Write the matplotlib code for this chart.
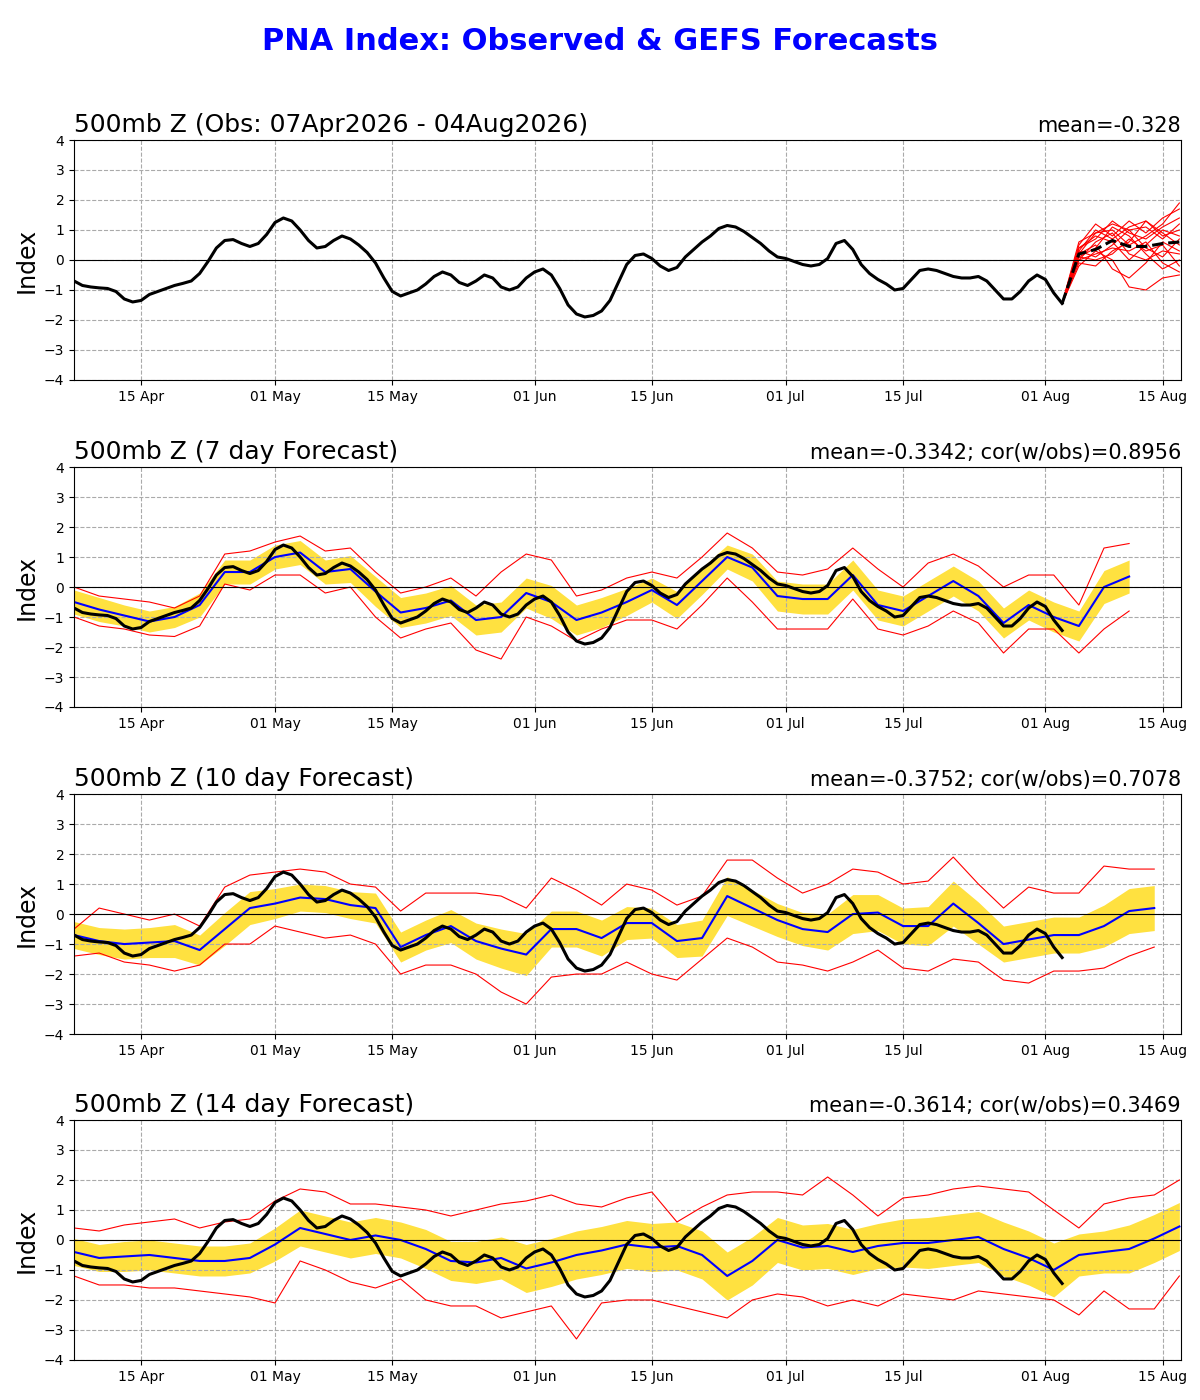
import numpy as np
import matplotlib
matplotlib.use("Agg")
import matplotlib.pyplot as plt
import matplotlib.dates as mdates
import datetime as dt

start = dt.date(2026, 4, 7)

# daily observed index from 07 Apr
obs = [-0.7,-0.85,-0.9,-0.93,-0.95,-1.05,-1.3,-1.4,-1.35,-1.15,-1.05,-0.95,-0.85,-0.78,-0.7,-0.45,-0.05,0.4,0.65,0.68,
       0.55,0.45,0.55,0.85,1.25,1.4,1.3,1.0,0.65,0.4,0.45,0.65,0.8,0.7,0.5,0.25,-0.1,-0.6,-1.05,-1.2,
       -1.1,-1.0,-0.8,
       -0.55,-0.4,-0.5,-0.75,-0.85,-0.7,-0.5,-0.6,-0.9,-1.0,-0.9,-0.6,-0.4,-0.3,-0.5,-0.95,-1.5,-1.8,-1.9,-1.85,
       -1.7,-1.35,-0.75,-0.15,0.15,0.2,0.05,-0.2,-0.35,-0.25,0.1,0.35,0.6,0.8,1.05,1.15,1.1,0.95,0.75,0.55,
       0.3,0.1,0.05,-0.05,-0.15,-0.2,-0.15,0.05,0.55,0.65,0.35,-0.15,-0.45,-0.65,-0.8,-1.0,-0.95,-0.65,-0.35,-0.3,
       -0.35,-0.45,-0.55,-0.6,-0.6,-0.55,-0.7,-1.0,-1.3,-1.3,-1.05,-0.7,-0.5,-0.65,-1.1,-1.45]

ens_days = [0, 2, 4, 6, 8, 10, 12, 14]
ens_members = [
    [-1.45,0.2,0.9,1.0,0.5,0.8,1.2,1.9],
    [-1.45,-0.2,0.3,0.0,-0.9,-1.0,-0.6,-0.5],
    [-1.45,0.5,1.2,0.8,1.3,0.9,1.4,1.7],
    [-1.45,0.0,0.6,0.9,0.2,0.0,0.3,0.2],
    [-1.45,0.3,0.1,0.5,1.0,1.1,0.7,1.2],
    [-1.45,0.1,0.4,1.1,0.8,0.2,-0.3,0.0],
    [-1.45,0.4,0.8,0.6,0.0,0.5,1.0,0.8],
    [-1.45,-0.1,-0.2,0.3,0.6,1.3,0.8,1.0],
    [-1.45,0.6,0.9,1.2,1.0,0.4,0.1,0.7],
    [-1.45,0.2,0.5,-0.3,-0.6,-0.1,0.6,0.3],
    [-1.45,0.3,1.0,0.7,1.1,1.3,0.9,0.5],
    [-1.45,0.0,0.2,0.4,0.3,0.6,-0.1,-0.4],
    [-1.45,0.4,0.7,1.3,0.9,0.7,1.1,1.4],
    [-1.45,0.1,0.0,0.2,0.7,0.3,0.5,-0.2],
]
ens_mean = [-1.45,0.2,0.35,0.65,0.45,0.45,0.55,0.6]

# Forecast panels, sampled every 3 days from start
f7_mean = [-0.5,-0.75,-0.95,-1.15,-1.0,-0.6,0.5,0.5,1.0,1.15,0.5,0.6,-0.15,-0.85,-0.7,-0.45,-1.1,-1.0,-0.2,-0.5,
           -1.1,-0.85,-0.5,-0.1,-0.6,0.2,1.0,0.65,-0.3,-0.4,-0.4,0.4,-0.6,-0.8,-0.3,0.2,-0.3,-1.2,-0.6,-1.0,
           -1.3,0.0,0.35]
f7_hw = [0.4,0.4,0.35,0.35,0.35,0.4,0.4,0.4,0.4,0.4,0.4,0.45,0.5,0.5,0.5,0.5,0.5,0.5,0.5,0.55,
         0.5,0.5,0.45,0.4,0.45,0.45,0.4,0.45,0.5,0.5,0.5,0.5,0.5,0.5,0.5,0.5,0.5,0.5,0.5,0.5,
         0.5,0.55,0.55]
f7_up = [0.0,-0.3,-0.4,-0.5,-0.7,-0.3,1.1,1.2,1.5,1.7,1.2,1.3,0.5,-0.2,0.0,0.3,-0.3,0.5,1.1,0.9,
         -0.3,-0.1,0.3,0.5,0.3,1.0,1.8,1.3,0.5,0.4,0.6,1.3,0.6,0.0,0.8,1.1,0.7,0.0,0.4,0.4,
         -0.6,1.3,1.45]
f7_lo = [-1.0,-1.3,-1.4,-1.6,-1.65,-1.3,0.1,-0.1,0.4,0.4,-0.2,0.0,-1.0,-1.7,-1.4,-1.2,-2.1,-2.4,-1.0,-1.3,
         -1.8,-1.4,-1.1,-1.1,-1.4,-0.6,0.3,-0.5,-1.4,-1.4,-1.4,-0.4,-1.4,-1.6,-1.3,-0.8,-1.2,-2.2,-1.4,-1.4,
         -2.2,-1.4,-0.8]

f10_mean = [-0.7,-0.9,-1.0,-0.95,-0.9,-1.2,-0.5,0.2,0.35,0.55,0.5,0.3,0.2,-1.1,-0.7,-0.4,-0.9,-1.15,-1.35,-0.5,
            -0.5,-0.8,-0.3,-0.3,-0.9,-0.8,0.6,0.2,-0.2,-0.5,-0.6,0.0,0.05,-0.4,-0.4,0.35,-0.3,-1.0,-0.85,-0.7,
            -0.7,-0.4,0.1,0.2]
f10_hw = [0.45,0.45,0.5,0.5,0.55,0.5,0.55,0.55,0.5,0.45,0.45,0.45,0.5,0.5,0.5,0.55,0.6,0.65,0.7,0.6,
          0.6,0.6,0.55,0.5,0.55,0.6,0.65,0.6,0.55,0.55,0.6,0.65,0.6,0.6,0.65,0.75,0.7,0.6,0.6,0.6,
          0.6,0.7,0.75,0.75]
f10_up = [-0.5,0.2,0.0,-0.2,0.0,-0.4,0.9,1.3,1.4,1.5,1.4,1.0,0.9,0.1,0.7,0.7,0.7,0.6,0.2,1.2,
          0.8,0.3,1.0,0.8,0.3,0.6,1.8,1.8,1.2,0.7,1.0,1.5,1.4,1.0,1.1,1.9,1.0,0.2,0.9,0.7,
          0.7,1.6,1.5,1.5]
f10_lo = [-1.4,-1.3,-1.6,-1.7,-1.9,-1.7,-1.0,-1.0,-0.4,-0.6,-0.8,-0.7,-1.0,-2.0,-1.7,-1.7,-2.0,-2.6,-3.0,-2.1,
          -2.0,-2.0,-1.6,-2.0,-2.2,-1.5,-0.8,-1.1,-1.6,-1.7,-1.9,-1.6,-1.2,-1.8,-1.9,-1.5,-1.6,-2.2,-2.3,-1.9,
          -1.9,-1.8,-1.4,-1.1]

f14_mean = [-0.4,-0.6,-0.55,-0.5,-0.6,-0.7,-0.7,-0.6,-0.15,0.4,0.2,0.0,0.15,0.0,-0.3,-0.7,-0.75,-0.6,-0.95,-0.75,
            -0.5,-0.35,-0.15,-0.25,-0.2,-0.5,-1.2,-0.7,0.0,-0.25,-0.2,-0.4,-0.2,-0.1,-0.1,0.0,0.1,-0.3,-0.6,-1.0,
            -0.5,-0.4,-0.3,0.05,0.45]
f14_hw = [0.45,0.45,0.5,0.5,0.5,0.5,0.5,0.5,0.55,0.6,0.6,0.6,0.6,0.6,0.65,0.65,0.7,0.7,0.8,0.8,
          0.8,0.8,0.8,0.8,0.8,0.8,0.8,0.8,0.75,0.75,0.75,0.75,0.75,0.8,0.85,0.85,0.85,0.9,0.9,0.9,
          0.7,0.7,0.8,0.8,0.8]
f14_up = [0.4,0.3,0.5,0.6,0.7,0.4,0.6,0.7,1.3,1.7,1.6,1.2,1.2,1.1,1.0,0.8,1.0,1.2,1.3,1.5,
          1.2,1.1,1.4,1.6,0.6,1.1,1.5,1.6,1.6,1.5,2.1,1.5,0.8,1.4,1.5,1.7,1.8,1.7,1.6,1.0,
          0.4,1.2,1.4,1.5,2.0]
f14_lo = [-1.2,-1.5,-1.5,-1.6,-1.6,-1.7,-1.8,-1.9,-2.1,-0.7,-1.0,-1.4,-1.6,-1.3,-2.0,-2.2,-2.2,-2.6,-2.4,-2.2,
          -3.3,-2.1,-2.0,-2.0,-2.2,-2.4,-2.6,-2.0,-1.8,-1.9,-2.2,-2.0,-2.2,-1.8,-1.9,-2.0,-1.7,-1.8,-1.9,-2.0,
          -2.5,-1.7,-2.3,-2.3,-1.2]

titles = ["500mb Z (Obs: 07Apr2026 - 04Aug2026)", "500mb Z (7 day Forecast)",
          "500mb Z (10 day Forecast)", "500mb Z (14 day Forecast)"]
rtitles = ["mean=-0.328", "mean=-0.3342; cor(w/obs)=0.8956",
           "mean=-0.3752; cor(w/obs)=0.7078", "mean=-0.3614; cor(w/obs)=0.3469"]

t0 = mdates.date2num(start)
def dnum(days):
    return t0 + np.asarray(days, dtype=float)

obs_x = dnum(np.arange(len(obs)))
ens_x = dnum(np.array(ens_days) + len(obs) - 1)

fig = plt.figure(figsize=(12, 14), dpi=100)
fig.text(0.5, 0.97, "PNA Index: Observed & GEFS Forecasts", color="blue",
         fontsize=22, fontweight="bold", ha="center", va="center")
bottoms = [0.7286, 0.495, 0.2614, 0.0286]
xmin = t0
xmax = t0 + 132.2

fcsts = [None, (f7_mean, f7_hw, f7_up, f7_lo), (f10_mean, f10_hw, f10_up, f10_lo),
         (f14_mean, f14_hw, f14_up, f14_lo)]
ticks = [dt.date(2026, m, d) for m, d in [(4, 15), (5, 1), (5, 15), (6, 1), (6, 15), (7, 1), (7, 15), (8, 1), (8, 15)]]

for i, b in enumerate(bottoms):
    ax = fig.add_axes([0.0617, b, 0.9225, 0.1714])
    if i == 0:
        for m in ens_members:
            ax.plot(ens_x, m, color="red", lw=0.8)
        ax.plot(obs_x, obs, color="black", lw=2.2)
        ax.plot(ens_x, ens_mean, color="black", lw=2.2, ls="--")
    else:
        mn, hw, up, lo = fcsts[i]
        fx = dnum(np.arange(len(mn)) * 3)
        mn_a = np.array(mn); hw_a = np.array(hw)
        ax.fill_between(fx, mn_a - hw_a, mn_a + hw_a, color="#FFD700", alpha=0.75, lw=0)
        ax.plot(fx, up, color="red", lw=0.8)
        ax.plot(fx, lo, color="red", lw=0.8)
        ax.plot(fx, mn, color="blue", lw=1.5)
        ax.plot(obs_x, obs, color="black", lw=2.2)
    ax.axhline(0, color="black", lw=0.8)
    ax.set_xlim(xmin, xmax)
    ax.set_ylim(-4, 4)
    ax.set_yticks(range(-4, 5))
    ax.set_xticks([mdates.date2num(t) for t in ticks])
    ax.xaxis.set_major_formatter(mdates.DateFormatter("%d %b"))
    ax.grid(True, ls="--", color="#aaaaaa", lw=0.8)
    ax.set_ylabel("Index", fontsize=17)
    ax.set_title(titles[i], loc="left", fontsize=18)
    ax.set_title(rtitles[i], loc="right", fontsize=15)
    ax.tick_params(labelsize=10)

fig.savefig("out.png", dpi=100)
